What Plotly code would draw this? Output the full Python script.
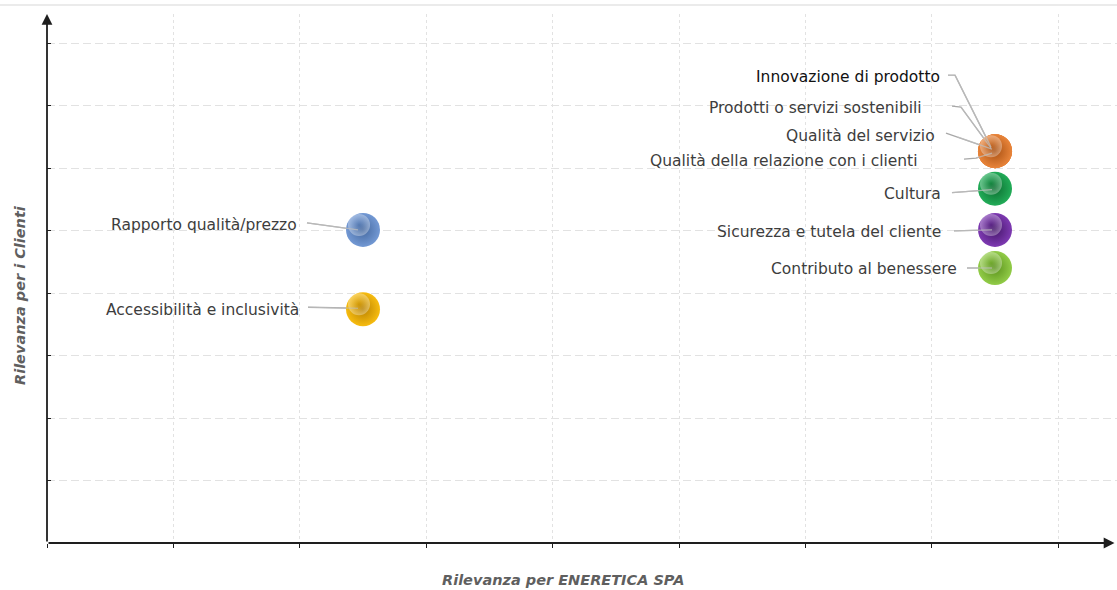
import plotly.graph_objects as go

# Materiality matrix: relevance for the company (x) vs relevance for customers (y)
topics = [
    "Innovazione di prodotto",
    "Prodotti o servizi sostenibili",
    "Qualità del servizio",
    "Qualità della relazione con i clienti",
    "Cultura",
    "Sicurezza e tutela del cliente",
    "Contributo al benessere",
    "Rapporto qualità/prezzo",
    "Accessibilità e inclusività",
]
rilevanza_azienda = [7.5, 7.5, 7.5, 7.5, 7.5, 7.5, 7.5, 2.5, 2.5]
rilevanza_clienti = [6.27, 6.27, 6.27, 6.27, 5.67, 5.01, 4.40, 5.01, 3.74]

# sphere colours: (body, rim)
sphere_colors = [
    ("#E8843A", "#A85012"),
    ("#E8843A", "#A85012"),
    ("#E8843A", "#A85012"),
    ("#E8843A", "#A85012"),
    ("#22AC58", "#0B6E30"),
    ("#7E3AB2", "#45166A"),
    ("#92CC48", "#5A921C"),
    ("#7399D4", "#44689F"),
    ("#F7BC10", "#B98200"),
]

# label placement in screen pixels relative to each sphere (dx right, dy down)
label_offsets = [(-53, -76), (-71, -45), (-58, -17), (-75, 8), (-52, 4),
                 (-52, 1), (-36, -1), (-64, -6), (-62, -1)]
leader_paths = [
    [(-47, -76), (-40, -76), (-4, -4)],
    [(-43, -45), (-34, -44), (-4, -3)],
    [(-49, -18), (-37, -14), (-3, -2)],
    [(-31, 8), (-19, 7), (-3, 2)],
    [(-43, 4), (-3, 1)],
    [(-41, 1), (-3, 0)],
    [(-28, 0), (-3, 0)],
    [(-56, -7), (-5, 0)],
    [(-55, -2), (-5, -1)],
]
label_colors = ["#111111"] + ["#3d3d3d"] * 8

W, H = 1117, 590
M_L, M_R, M_T, M_B = 47, 0, 14, 47
PX_PER_X = 126.4
PX_PER_Y = 62.5
plot_w = W - M_L - M_R
plot_h = H - M_T - M_B
x_max = plot_w / PX_PER_X
y_max = plot_h / PX_PER_Y

FONT = "DejaVu Sans"

fig = go.Figure()

# leader lines
for (px, py, path) in zip(rilevanza_azienda, rilevanza_clienti, leader_paths):
    fig.add_trace(go.Scatter(
        x=[px + dx / PX_PER_X for dx, dy in path],
        y=[py - dy / PX_PER_Y for dx, dy in path],
        mode="lines",
        line=dict(color="#a8a8a8", width=1.3),
        hoverinfo="skip", showlegend=False,
    ))

# sphere bodies
fig.add_trace(go.Scatter(
    x=rilevanza_azienda, y=rilevanza_clienti,
    mode="markers",
    marker=dict(
        size=34,
        color=[c[0] for c in sphere_colors],
        gradient=dict(type="radial", color=[c[1] for c in sphere_colors]),
        line=dict(width=0),
    ),
    hoverinfo="text", text=topics, showlegend=False,
))

# soft specular highlight, shifted up-left, once per distinct sphere position
unique_pos = list(dict.fromkeys(zip(rilevanza_azienda, rilevanza_clienti)))
fig.add_trace(go.Scatter(
    x=[x - 4 / PX_PER_X for x, y in unique_pos],
    y=[y + 5 / PX_PER_Y for x, y in unique_pos],
    mode="markers",
    marker=dict(
        size=22,
        color="rgba(255,255,255,0.34)",
        gradient=dict(type="radial", color="rgba(255,255,255,0)"),
        line=dict(width=0),
    ),
    hoverinfo="skip", showlegend=False,
))

# leader lines reaching into the sphere centres
for (px, py, path) in zip(rilevanza_azienda, rilevanza_clienti, leader_paths):
    fig.add_trace(go.Scatter(
        x=[px + dx / PX_PER_X for dx, dy in path[-2:]],
        y=[py - dy / PX_PER_Y for dx, dy in path[-2:]],
        mode="lines",
        line=dict(color="rgba(190,190,190,0.75)", width=1.2),
        hoverinfo="skip", showlegend=False,
    ))

annotations = []
for name, px, py, (dx, dy), col in zip(topics, rilevanza_azienda, rilevanza_clienti,
                                        label_offsets, label_colors):
    annotations.append(dict(
        x=px + dx / PX_PER_X, y=py - dy / PX_PER_Y, xref="x", yref="y",
        text=name, showarrow=False, xanchor="right", yanchor="middle", yshift=-1.5,
        font=dict(family=FONT, size=15.5, color=col),
    ))

# axis arrows
annotations.append(dict(x=x_max - 0.02, y=0, ax=0, ay=0, xref="x", yref="y",
                        axref="x", ayref="y", text="", showarrow=True,
                        arrowhead=2, arrowsize=1.2, arrowwidth=1.8, arrowcolor="#1e1e1e"))
annotations.append(dict(x=0, y=y_max, ax=0, ay=0, xref="x", yref="y",
                        axref="x", ayref="y", text="", showarrow=True,
                        arrowhead=2, arrowsize=1.2, arrowwidth=1.8, arrowcolor="#1e1e1e"))

# axis titles
annotations.append(dict(x=(563 - M_L) / plot_w, y=-(580 - (H - M_B)) / plot_h,
                        xref="paper", yref="paper", showarrow=False,
                        text="<b><i>Rilevanza per ENERETICA SPA</i></b>",
                        xanchor="center", yanchor="middle",
                        font=dict(family=FONT, size=14.5, color="#5f5f5f")))
annotations.append(dict(x=(20 - M_L) / plot_w, y=((H - M_B) - 295) / plot_h,
                        xref="paper", yref="paper", showarrow=False, textangle=-90,
                        text="<b><i>Rilevanza per i Clienti</i></b>",
                        xanchor="center", yanchor="middle",
                        font=dict(family=FONT, size=14.5, color="#5f5f5f")))

fig.update_layout(
    width=W, height=H, autosize=False,
    margin=dict(l=M_L, r=M_R, t=M_T, b=M_B),
    paper_bgcolor="white", plot_bgcolor="white",
    annotations=annotations,
    shapes=[dict(type="line", xref="paper", yref="paper",
                 x0=-M_L / plot_w, x1=1, y0=1 + 9 / plot_h, y1=1 + 9 / plot_h,
                 line=dict(color="#e4e4e4", width=1.5))],
    hovermode="closest",
)
fig.update_xaxes(range=[0, x_max], tickvals=list(range(0, 9)), showticklabels=False,
                 ticks="outside", ticklen=4, tickcolor="#1e1e1e", tickwidth=1.3,
                 showgrid=True, gridcolor="#e2e2e2", gridwidth=1, griddash="3px,3px",
                 zeroline=False, showline=False, fixedrange=True)
fig.update_yaxes(range=[0, y_max], tickvals=list(range(0, 9)), showticklabels=False,
                 ticks="inside", ticklen=4, tickcolor="#1e1e1e", tickwidth=1.3,
                 showgrid=True, gridcolor="#e2e2e2", gridwidth=1, griddash="8px,4px",
                 zeroline=False, showline=False, fixedrange=True)

fig.write_html("out.html")
